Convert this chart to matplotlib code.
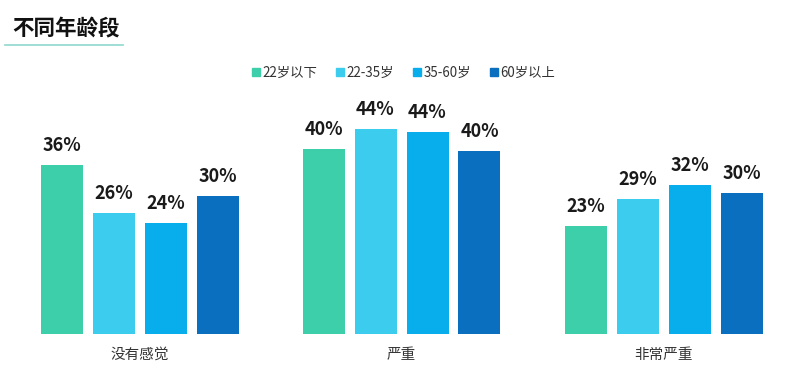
import matplotlib
matplotlib.use("Agg")
import matplotlib.pyplot as plt
from matplotlib.lines import Line2D
import numpy as np

plt.rcParams['font.family'] = ['Noto Sans CJK SC', 'DejaVu Sans']

categories = ["没有感觉", "严重", "非常严重"]
series_names = ["22岁以下", "22-35岁", "35-60岁", "60岁以上"]
values = {
    "22岁以下": [36.3, 39.8, 23.2],
    "22-35岁": [26.0, 44.1, 29.0],
    "35-60岁": [23.9, 43.4, 32.0],
    "60岁以上": [29.7, 39.4, 30.3],
}
labels = {
    "22岁以下": ["36%", "40%", "23%"],
    "22-35岁": ["26%", "44%", "29%"],
    "35-60岁": ["24%", "44%", "32%"],
    "60岁以上": ["30%", "40%", "30%"],
}
colors = ["#3DCFA9", "#3CCDEE", "#08AEEC", "#0A6FBE"]

W, H = 808, 374
fig = plt.figure(figsize=(W / 100, H / 100), dpi=100)

bottom_px, top_px = 334, 60
px_per_pct = 4.65
ax = fig.add_axes([0, 1 - bottom_px / H, 1, (bottom_px - top_px) / H])
group_px = 262.0
c0 = 139.5
ax.set_xlim(-c0 / group_px, (W - c0) / group_px)
ax.set_ylim(0, (bottom_px - top_px) / px_per_pct)
ax.axis('off')

x = np.arange(len(categories))
step = 52 / group_px
width = 42 / group_px
for i, name in enumerate(series_names):
    xs = x + (i - 1.5) * step
    ax.bar(xs, values[name], width=width, color=colors[i], zorder=2)
    for xi, v, lab in zip(xs, values[name], labels[name]):
        ax.annotate(lab, (xi, v), xytext=(0, 7), textcoords='offset points',
                    ha='center', va='bottom', fontsize=13, fontweight='bold',
                    color='#1a1a1a')

# category labels
for xi, cat in zip(x, categories):
    fig.text((c0 + xi * group_px) / W, 1 - 355 / H, cat, ha='center', va='center',
             fontsize=10.5, color='#333333')

# title
fig.text(12 / W, 1 - 29 / H, "不同年龄段", ha='left', va='center', fontsize=15.5,
         fontweight='bold', color='#111111')
fig.add_artist(Line2D([5 / W, 123 / W], [1 - 45 / H, 1 - 45 / H], color='#8fd8cd',
                      lw=1.2, transform=fig.transFigure))

# legend
handles = [Line2D([], [], marker='s', linestyle='none', markersize=6,
                  markerfacecolor=c, markeredgecolor=c) for c in colors]
fig.legend(handles, series_names, loc='center', bbox_to_anchor=(403 / W, 1 - 73 / H),
           ncol=4, frameon=False, fontsize=9.6, handletextpad=0.1, columnspacing=1.3,
           handlelength=0.8, labelcolor='#333333')

fig.savefig("out.png", dpi=100, facecolor='white')
